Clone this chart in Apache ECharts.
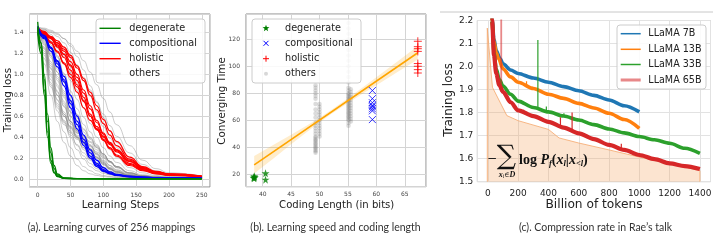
<!DOCTYPE html>
<html><head><meta charset="utf-8">
<script src="https://cdn.jsdelivr.net/npm/echarts@6/dist/echarts.min.js"></script>
<style>html,body{margin:0;padding:0;background:#fff}#c{width:718px;height:241px}</style>
</head><body><div id="c"></div>
<script>
// ---------------- Panel (a): learning curves ----------------
const stepsA = [0,10,20,30,40,50,60,70,80,90,100,110,120,140,160,180,200,250];
const stepsGreen = [0,5,10,15,20,25,30,40,60,100,250];
const degenerateCurves = [
  [1.50,1.30,0.95,0.55,0.25,0.10,0.04,0.010,0.005,0.003,0.003],
  [1.45,1.25,0.85,0.45,0.18,0.07,0.03,0.008,0.004,0.003,0.003],
  [1.42,1.30,1.00,0.62,0.30,0.13,0.05,0.012,0.005,0.003,0.003],
  [1.40,1.20,0.80,0.40,0.15,0.06,0.025,0.007,0.004,0.003,0.003]
];
const compositionalCurves = [
  [1.46,1.37,1.26,1.12,0.95,0.75,0.55,0.38,0.25,0.15,0.09,0.06,0.04,0.025,0.018,0.014,0.012,0.01],
  [1.44,1.34,1.22,1.07,0.89,0.68,0.48,0.32,0.20,0.12,0.075,0.05,0.035,0.022,0.016,0.013,0.011,0.01],
  [1.45,1.36,1.25,1.10,0.93,0.72,0.52,0.35,0.22,0.135,0.08,0.055,0.038,0.024,0.017,0.013,0.011,0.01],
  [1.43,1.35,1.25,1.13,0.98,0.80,0.60,0.42,0.28,0.18,0.11,0.07,0.045,0.028,0.02,0.015,0.012,0.01]
];
const holisticCurves = [
  [1.42,1.40,1.36,1.30,1.22,1.12,1.00,0.85,0.70,0.56,0.44,0.34,0.26,0.15,0.09,0.06,0.04,0.025],
  [1.44,1.40,1.34,1.26,1.16,1.04,0.90,0.75,0.60,0.48,0.37,0.29,0.22,0.13,0.08,0.05,0.035,0.022],
  [1.40,1.38,1.35,1.30,1.24,1.16,1.06,0.94,0.80,0.66,0.53,0.42,0.32,0.19,0.11,0.07,0.05,0.03],
  [1.43,1.38,1.31,1.22,1.10,0.97,0.83,0.68,0.56,0.47,0.40,0.33,0.27,0.17,0.10,0.065,0.045,0.025],
  [1.41,1.39,1.34,1.27,1.19,1.09,0.97,0.82,0.67,0.54,0.43,0.35,0.28,0.17,0.10,0.06,0.04,0.025],
  [1.45,1.41,1.35,1.28,1.19,1.08,0.94,0.78,0.62,0.50,0.41,0.34,0.28,0.18,0.11,0.07,0.045,0.028],
  [1.42,1.37,1.30,1.21,1.11,1.00,0.88,0.74,0.60,0.48,0.38,0.30,0.23,0.14,0.085,0.055,0.038,0.022],
  [1.41,1.39,1.36,1.32,1.26,1.18,1.08,0.96,0.83,0.70,0.57,0.46,0.36,0.21,0.12,0.075,0.05,0.03]
];
const otherCurves = [
  [1.42,1.10,0.80,0.55,0.35,0.22,0.13,0.08,0.05,0.035,0.025,0.02,0.015,0.01,0.008,0.007,0.006,0.005],
  [1.45,1.20,0.90,0.65,0.45,0.30,0.19,0.12,0.08,0.05,0.035,0.025,0.02,0.013,0.01,0.008,0.007,0.006],
  [1.40,1.25,1.00,0.75,0.55,0.40,0.28,0.19,0.12,0.08,0.055,0.04,0.03,0.018,0.012,0.01,0.008,0.007],
  [1.44,1.15,0.88,0.68,0.52,0.44,0.38,0.30,0.20,0.12,0.07,0.045,0.03,0.018,0.012,0.01,0.008,0.007],
  [1.43,1.30,1.08,0.84,0.62,0.45,0.32,0.22,0.15,0.10,0.07,0.05,0.035,0.02,0.014,0.011,0.009,0.008],
  [1.41,1.28,1.05,0.80,0.60,0.48,0.42,0.36,0.27,0.18,0.11,0.07,0.045,0.025,0.016,0.012,0.01,0.008],
  [1.45,1.35,1.18,0.96,0.74,0.55,0.40,0.28,0.19,0.13,0.09,0.06,0.045,0.025,0.016,0.012,0.01,0.008],
  [1.42,1.32,1.12,0.90,0.70,0.55,0.44,0.38,0.32,0.24,0.16,0.10,0.065,0.03,0.018,0.013,0.01,0.008],
  [1.44,1.37,1.24,1.05,0.84,0.64,0.47,0.34,0.24,0.16,0.11,0.075,0.05,0.028,0.018,0.013,0.011,0.009],
  [1.40,1.33,1.20,1.02,0.82,0.64,0.50,0.41,0.35,0.28,0.20,0.13,0.085,0.04,0.022,0.015,0.012,0.009],
  [1.43,1.38,1.28,1.12,0.93,0.74,0.56,0.41,0.29,0.20,0.14,0.095,0.065,0.035,0.02,0.015,0.012,0.01],
  [1.45,1.40,1.32,1.18,1.00,0.80,0.61,0.45,0.32,0.23,0.16,0.11,0.075,0.04,0.024,0.016,0.013,0.01],
  [1.42,1.38,1.30,1.17,1.01,0.84,0.67,0.52,0.40,0.30,0.22,0.16,0.11,0.055,0.03,0.02,0.015,0.01],
  [1.44,1.41,1.35,1.25,1.11,0.94,0.76,0.59,0.45,0.33,0.24,0.17,0.12,0.06,0.033,0.022,0.016,0.011],
  [1.41,1.39,1.35,1.28,1.17,1.02,0.85,0.68,0.53,0.40,0.30,0.22,0.16,0.08,0.042,0.027,0.019,0.012],
  [1.46,1.43,1.38,1.30,1.20,1.07,0.92,0.76,0.61,0.48,0.37,0.28,0.21,0.11,0.06,0.035,0.024,0.014],
  [1.43,1.42,1.40,1.36,1.30,1.21,1.09,0.94,0.79,0.64,0.50,0.39,0.30,0.17,0.09,0.05,0.032,0.018],
  [1.45,1.44,1.42,1.39,1.34,1.27,1.17,1.04,0.89,0.74,0.59,0.46,0.35,0.19,0.10,0.055,0.035,0.02],
  [1.42,1.36,1.25,1.10,0.92,0.74,0.58,0.47,0.39,0.32,0.24,0.17,0.12,0.06,0.03,0.02,0.015,0.01],
  [1.44,1.34,1.18,0.98,0.78,0.60,0.46,0.36,0.28,0.21,0.15,0.10,0.07,0.035,0.02,0.014,0.011,0.009],
  [1.41,1.22,0.95,0.72,0.56,0.46,0.40,0.35,0.29,0.21,0.14,0.09,0.06,0.03,0.018,0.013,0.01,0.008],
  [1.43,1.40,1.36,1.32,1.26,1.18,1.08,0.97,0.85,0.73,0.62,0.51,0.41,0.25,0.14,0.08,0.05,0.025],
  [1.44,1.43,1.41,1.38,1.34,1.29,1.22,1.13,1.02,0.90,0.77,0.64,0.52,0.32,0.18,0.10,0.06,0.03],
  [1.43,1.18,0.92,0.70,0.54,0.42,0.33,0.25,0.18,0.12,0.08,0.055,0.04,0.022,0.014,0.011,0.009,0.007],
  [1.42,1.26,1.02,0.80,0.62,0.49,0.39,0.30,0.22,0.15,0.10,0.07,0.05,0.027,0.017,0.012,0.01,0.008],
  [1.44,1.31,1.10,0.88,0.69,0.53,0.41,0.33,0.27,0.21,0.15,0.10,0.07,0.035,0.02,0.014,0.011,0.009],
  [1.41,1.24,0.98,0.76,0.60,0.50,0.44,0.39,0.33,0.25,0.17,0.11,0.075,0.035,0.02,0.014,0.011,0.009],
  [1.45,1.29,1.06,0.83,0.64,0.50,0.40,0.34,0.29,0.24,0.18,0.13,0.09,0.045,0.025,0.016,0.012,0.009],
  [1.43,1.34,1.16,0.94,0.72,0.55,0.45,0.40,0.36,0.31,0.24,0.17,0.11,0.05,0.027,0.017,0.013,0.01],
  [1.42,1.36,1.22,1.02,0.80,0.60,0.46,0.37,0.31,0.26,0.21,0.16,0.12,0.06,0.032,0.02,0.015,0.011],
  [1.44,1.39,1.30,1.16,0.98,0.79,0.62,0.48,0.38,0.30,0.23,0.17,0.12,0.06,0.032,0.02,0.015,0.011]
];
const legendA = ['degenerate','compositional','holistic','others'];
const legendColorsA = ['#008000','#0000ff','#ff0000','#e3e3e3'];

// ---------------- Panel (b): speed vs coding length ----------------
const degeneratePts = [[38.5,18.5],[38.4,17.4],[38.6,17.9],[38.5,17.0],[40.5,20.7],[40.5,16.0]];
const compositionalPts = [[59.3,82],[59.3,76],[59.3,73],[59.3,71],[59.3,70],[59.3,68.5],[59.3,67],[59.3,60.5]];
const holisticPts = [[67.3,118.5],[67.3,114.5],[67.3,113],[67.3,111],[67.3,102],[67.3,100],[67.3,97.5],[67.3,95]];
const othersLenB = [49.3, 50.0, 55.1, 55.5];
const othersTimeB = [
  [86,84,82,80,78,76,72,68,65,62,58,56,54,52,50,48,47,46,45,44,43,42,41,40,39,38,37,36],
  [72,70,68,66,64,62,60,58,56,54,52,50,48],
  [132,128,124,120,116,112,108,104,100,96,92,88,84,82,80,79,78,77,76,75,74,73,72,71,70,69,68,67,66,65,64,63,62,61,60,58,56],
  [83,81,79,77,75,73,71,69,67,65,63,61,59]
];
const fitLineB = [[38.5,27],[67.3,110]];
const bandX = [38.5,42,45,48,50,52,55,58,61,64,67.3];
const bandLow = [20.5,32.1,42.2,52.1,58.3,64.4,72.7,80.8,88.6,96.4,105];
const bandHigh = [33.5,42.1,49.2,56.7,61.9,67.4,76.3,85.6,95,104.4,115];
const legendB = ['degenerate','compositional','holistic','others'];

// ---------------- Panel (c): LLaMA loss curves ----------------
const tokens7B = [16,28,40,55,80,100,150,200,300,400,500,600,700,800,900,1000];
const loss7B   = [2.26,2.20,2.12,2.07,2.035,2.012,1.985,1.97,1.95,1.932,1.913,1.895,1.875,1.855,1.83,1.803];
const tokens13B = [16,25,40,55,70,100,150,200,300,400,500,600,700,800,900,1000];
const loss13B   = [2.28,2.20,2.11,2.06,2.035,1.99,1.955,1.932,1.905,1.88,1.862,1.84,1.82,1.797,1.77,1.732];
const tokens33B = [18,28,40,55,75,100,150,200,300,400,500,600,700,800,900,1000,1100,1200,1300,1400];
const loss33B   = [2.30,2.20,2.06,1.99,1.945,1.915,1.88,1.85,1.822,1.803,1.785,1.768,1.748,1.729,1.712,1.696,1.682,1.667,1.645,1.623];
const tokens65B = [18,28,40,55,75,100,150,200,300,400,500,600,700,800,900,1000,1100,1200,1300,1400];
const loss65B   = [2.30,2.20,2.05,1.97,1.92,1.89,1.845,1.81,1.785,1.76,1.735,1.71,1.685,1.66,1.638,1.616,1.598,1.58,1.568,1.555];
// spikes: [tokens, base loss, peak loss]
const spikes13B = [[70,2.035,2.045],[255,1.92,1.936],[295,1.90,1.912]];
const spikes33B = [[330,1.82,2.115],[386,1.805,1.827],[502,1.785,1.797]];
const spikes65B = [[236,1.80,1.812],[479,1.74,1.78],[556,1.72,1.80],[881,1.64,1.665]];
const spike65BTop = [[88,1.89],[88,2.3]];
const envTokens = [-4,-4,30,125,200,400,470,600,800,1000,1200,1400,1400];
const envLoss   = [1.5,2.167,1.91,1.787,1.765,1.727,1.69,1.668,1.638,1.607,1.58,1.548,1.5];
const modelNames = ['LLaMA 7B','LLaMA 13B','LLaMA 33B','LLaMA 65B'];
const modelColors = ['#1f77b4','#ff7f0e','#2ca02c','#d62728'];
const legendColorsC = ['#1f77b4','#ff7f0e','#2ca02c','rgba(214,39,40,0.55)'];

// ---------------- build series ----------------
const zip = (xs, ys) => xs.map((x, i) => [x, ys[i]]);
const series = [];
const lineA = (name, xs, ys, color, w, z) => ({
  type:'line', name, xAxisIndex:0, yAxisIndex:0, data: zip(xs, ys),
  smooth:0.5, smoothMonotone:'x', symbol:'none', showSymbol:false, silent:true, z,
  lineStyle:{color, width:w}, itemStyle:{color}
});
otherCurves.forEach(c => series.push(lineA('others', stepsA, c, 'rgba(128,128,128,0.4)', 1, 2)));
holisticCurves.forEach(c => series.push(lineA('holistic', stepsA, c, '#ff0000', 1.2, 3)));
compositionalCurves.forEach(c => series.push(lineA('compositional', stepsA, c, '#0000ff', 1.3, 4)));
degenerateCurves.forEach(c => series.push(lineA('degenerate', stepsGreen, c, '#008000', 1.3, 5)));

// panel b
series.push({
  type:'custom', xAxisIndex:1, yAxisIndex:1, silent:true, z:1,
  data: bandX.map((x,i)=>[x, bandLow[i], bandHigh[i]]),
  encode:{x:0, y:[1,2]},
  renderItem:(params, api) => {
    if (params.dataIndex !== 0) return null;
    const pts = [];
    for (let i = 0; i < bandX.length; i++) pts.push(api.coord([bandX[i], bandHigh[i]]));
    for (let i = bandX.length - 1; i >= 0; i--) pts.push(api.coord([bandX[i], bandLow[i]]));
    return {type:'polygon', shape:{points:pts}, style:{fill:'rgba(255,165,0,0.2)'}};
  }
});
const othersPts = [];
othersLenB.forEach((x, i) => othersTimeB[i].forEach(t => othersPts.push([x, t])));
series.push({type:'scatter', name:'others', xAxisIndex:1, yAxisIndex:1, data:othersPts, symbol:'circle', symbolSize:4.5, silent:true, z:2, itemStyle:{color:'rgba(128,128,128,0.34)'}});
series.push({type:'line', xAxisIndex:1, yAxisIndex:1, data:fitLineB, symbol:'none', silent:true, z:3, lineStyle:{color:'#ffa500', width:1.6}});
const starPath = 'path://M50,0L61.8,35.1L98.9,35.1L68.8,57.6L79.4,93.3L50,71.5L20.6,93.3L31.2,57.6L1.1,35.1L38.2,35.1Z';
const xPath = 'path://M0,0L10,10M10,0L0,10';
const plusPath = 'path://M5,0L5,10M0,5L10,5';
series.push({type:'scatter', name:'degenerate', xAxisIndex:1, yAxisIndex:1, data:degeneratePts, symbol:starPath, symbolSize:8, silent:true, z:4, itemStyle:{color:'#008000'}});
series.push({type:'scatter', name:'compositional', xAxisIndex:1, yAxisIndex:1, data:compositionalPts, symbol:xPath, symbolSize:7, silent:true, z:4, itemStyle:{color:'transparent', borderColor:'#0000ff', borderWidth:1}});
series.push({type:'scatter', name:'holistic', xAxisIndex:1, yAxisIndex:1, data:holisticPts, symbol:plusPath, symbolSize:8, silent:true, z:4, itemStyle:{color:'transparent', borderColor:'#ff0000', borderWidth:1}});

// panel c
series.push({type:'line', xAxisIndex:2, yAxisIndex:2, data:zip(envTokens, envLoss), symbol:'none', silent:true, z:1,
  lineStyle:{color:'#f5a66a', width:0.8}, areaStyle:{color:'rgba(244,164,96,0.42)', origin:'start'}});
const curvesC = [[tokens7B,loss7B],[tokens13B,loss13B],[tokens33B,loss33B],[tokens65B,loss65B]];
curvesC.forEach((c, i) => series.push({type:'line', name:modelNames[i], xAxisIndex:2, yAxisIndex:2, data:zip(c[0], c[1]),
  smooth:0.3, smoothMonotone:'x', symbol:'none', silent:true, z:2+i, lineStyle:{color:modelColors[i], width: i===3?4.2:3.6}}));
const addSpikes = (list, idx) => list.forEach(s => series.push({type:'line', xAxisIndex:2, yAxisIndex:2,
  data:[[s[0], s[1]],[s[0], s[2]]], symbol:'none', silent:true, z:6, lineStyle:{color:modelColors[idx], width:1.2}}));
addSpikes(spikes13B, 1); addSpikes(spikes33B, 2); addSpikes(spikes65B, 3);
series.push({type:'line', xAxisIndex:2, yAxisIndex:2, data:spike65BTop, symbol:'none', silent:true, z:6,
  lineStyle:{color:'rgba(214,39,40,0.55)', width:1.8}});

// ---------------- legends (drawn as graphic boxes) ----------------
const G = [];
const box = (x, y, w, h) => G.push({type:'rect', z:100, silent:true, shape:{x, y, width:w, height:h, r:3},
  style:{fill:'rgba(255,255,255,0.85)', stroke:'#cccccc', lineWidth:1}});
const label = (x, y, text, size) => G.push({type:'text', z:101, silent:true, x, y,
  style:{text, fontFamily:'DejaVu Sans', fontSize:size, fill:'#222', align:'left', verticalAlign:'middle'}});
const seg = (x1, y1, x2, y2, color, w) => G.push({type:'line', z:101, silent:true, shape:{x1, y1, x2, y2}, style:{stroke:color, lineWidth:w}});
const rowsA = [28.3, 43.3, 58.7, 73.7];
box(96, 19, 109, 64);
legendA.forEach((t, i) => { seg(99.5, rowsA[i], 120.7, rowsA[i], legendColorsA[i], i===3?2:1.4); label(129.3, rowsA[i], t, 9.7); });
box(252, 19, 109, 64);
legendB.forEach((t, i) => label(285, rowsA[i], t, 9.7));
{ // marker icons
  const cx = 266, cy = rowsA[0], R = 3.6, pts = [];
  for (let k = 0; k < 10; k++) { const a = -Math.PI/2 + k*Math.PI/5, r = k%2 ? R*0.42 : R; pts.push([cx + r*Math.cos(a), cy + r*Math.sin(a)]); }
  G.push({type:'polygon', z:101, silent:true, shape:{points:pts}, style:{fill:'#008000'}});
  seg(263.5, rowsA[1]-2.5, 268.5, rowsA[1]+2.5, '#0000ff', 1); seg(268.5, rowsA[1]-2.5, 263.5, rowsA[1]+2.5, '#0000ff', 1);
  seg(266, rowsA[2]-3, 266, rowsA[2]+3, '#ff0000', 1); seg(263, rowsA[2], 269, rowsA[2], '#ff0000', 1);
  G.push({type:'circle', z:101, silent:true, shape:{cx:266, cy:rowsA[3], r:2}, style:{fill:'#d8d8d8'}});
}
const rowsC = [33.7, 49.3, 64.5, 80];
box(617, 25, 89, 64);
modelNames.forEach((t, i) => { seg(620.7, rowsC[i], 640.7, rowsC[i], legendColorsC[i], i===3?3:1.5); label(648.3, rowsC[i], t, 9.6); });

// axis titles, captions, annotation
const txt = (x, y, text, size, extra) => G.push(Object.assign({type:'text', silent:true, x, y,
  style:{text, fontFamily:'DejaVu Sans', fontSize:size, fill:'#222', align:'center', verticalAlign:'middle'}}, extra || {}));
G.push({type:'line', silent:true, shape:{x1:440, y1:12, x2:713, y2:12}, style:{stroke:'#c8c8c8', lineWidth:1}});
txt(8, 100, 'Training loss', 10.4, {rotation:Math.PI/2});
txt(120.5, 205, 'Learning Steps', 10.4);
txt(222.5, 101, 'Converging Time', 10.3, {rotation:Math.PI/2});
txt(336.7, 205, 'Coding Length (in bits)', 10.1);
txt(449, 100, 'Training loss', 11.9, {rotation:Math.PI/2});
txt(594, 205, 'Billion of tokens', 12.2);
const cap = (x, text) => G.push({type:'text', silent:true, x, y:228,
  style:{text, fontFamily:'Lato', fontSize:10.5, fill:'#333', align:'center', verticalAlign:'middle'}});
cap(111.5, '(a). Learning curves of 256 mappings');
cap(335.5, '(b). Learning speed and coding length');
cap(595.5, '(c). Compression rate in Rae\u2019s talk');
G.push({type:'text', x:492, y:159, z:100, silent:true, style:{text:'\u2212', fontFamily:'DejaVu Serif', fontSize:12, fill:'#111', align:'center', verticalAlign:'middle'}});
G.push({type:'text', x:506.5, y:157, z:100, silent:true, style:{text:'\u2211', fontFamily:'DejaVu Serif', fontSize:27, fill:'#111', align:'center', verticalAlign:'middle'}});
G.push({type:'text', x:507, y:175, z:100, silent:true, style:{text:'{i|x}{s|i}{n|\u2208}{i|D}', align:'center', verticalAlign:'middle',
  rich:{i:{fontFamily:'Liberation Serif', fontStyle:'italic', fontWeight:'bold', fontSize:8, lineHeight:10, fill:'#111'},
        n:{fontFamily:'DejaVu Serif', fontSize:7, lineHeight:10, fill:'#111'},
        s:{fontFamily:'Liberation Serif', fontStyle:'italic', fontSize:5.5, lineHeight:5, fill:'#111', verticalAlign:'bottom'}}}});
G.push({type:'text', x:519, y:160, z:100, silent:true, style:{
  text:'{b|log }{bi|P}{s|f}{b|(}{bi|x}{s|l}{b||}{bi|x}{s|<l}{b|)}',
  align:'left', verticalAlign:'middle',
  rich:{
    b:{fontFamily:'Liberation Serif', fontWeight:'bold', fontSize:14, lineHeight:17, fill:'#111', verticalAlign:'middle'},
    bi:{fontFamily:'Liberation Serif', fontWeight:'bold', fontStyle:'italic', fontSize:14, lineHeight:17, fill:'#111', verticalAlign:'middle'},
    s:{fontFamily:'Liberation Serif', fontWeight:'bold', fontStyle:'italic', fontSize:8.5, lineHeight:8, fill:'#111', verticalAlign:'bottom'}
  }}});

// ---------------- axes ----------------
const gridLine = c => ({show:true, lineStyle:{color:c, width:1}});
const valAxis = (o) => Object.assign({type:'value', axisLine:{show:false}, axisTick:{show:false}}, o);
const tickFont = {fontFamily:'DejaVu Sans', fontSize:6, color:'#444'};

const option = {
  animation:false,
  backgroundColor:'#ffffff',
  textStyle:{fontFamily:'DejaVu Sans'},
  grid:[
    {left:29.5, top:14, width:180.5, height:173, show:true, borderColor:'#8a8a8a', borderWidth:1, backgroundColor:'transparent', containLabel:false, outerBoundsMode:'none'},
    {left:246, top:14, width:180, height:172.7, show:true, borderColor:'#8a8a8a', borderWidth:1, backgroundColor:'transparent', containLabel:false, outerBoundsMode:'none'},
    {left:477.3, top:20.5, width:233.2, height:161.2, show:true, borderColor:'#bdbdbd', borderWidth:1, backgroundColor:'transparent', containLabel:false, outerBoundsMode:'none'}
  ],
  xAxis:[
    valAxis({gridIndex:0, min:-12.5, max:262.5, splitNumber:5, minInterval:50, maxInterval:50,
      axisLabel:Object.assign({margin:5, showMinLabel:false, showMaxLabel:false}, tickFont), splitLine:gridLine('#d4d4d4')}),
    valAxis({gridIndex:1, min:37.06, max:68.74, splitNumber:6, minInterval:5, maxInterval:5,
      axisLabel:Object.assign({margin:5, showMinLabel:false, showMaxLabel:false}, tickFont), splitLine:gridLine('#d4d4d4')}),
    valAxis({gridIndex:2, min:-70, max:1470, splitNumber:7, minInterval:200, maxInterval:200,
      axisLabel:{margin:7, showMinLabel:false, showMaxLabel:false, formatter:v=>String(v), fontFamily:'DejaVu Sans', fontSize:9, color:'#222'}, splitLine:gridLine('#e2e2e2')})
  ],
  yAxis:[
    valAxis({gridIndex:0, min:-0.075, max:1.575, splitNumber:8, minInterval:0.2, maxInterval:0.2,
      axisLabel:Object.assign({margin:6, showMinLabel:false, showMaxLabel:false, formatter:v=>v.toFixed(1)}, tickFont), splitLine:gridLine('#d4d4d4')}),
    valAxis({gridIndex:1, min:10.8, max:138.7, splitNumber:6, minInterval:20, maxInterval:20,
      axisLabel:Object.assign({margin:6, showMinLabel:false, showMaxLabel:false}, tickFont), splitLine:gridLine('#d4d4d4')}),
    valAxis({gridIndex:2, min:1.5, max:2.2, splitNumber:7, minInterval:0.1, maxInterval:0.1,
      axisLabel:{margin:4, formatter:v=>v.toFixed(1), fontFamily:'DejaVu Sans', fontSize:9, color:'#222'}, splitLine:gridLine('#e2e2e2')})
  ],
  graphic: G,
  series
};
const chart = echarts.init(document.getElementById('c'), null, {renderer:'canvas'});
chart.setOption(option);
</script>
</body></html>
